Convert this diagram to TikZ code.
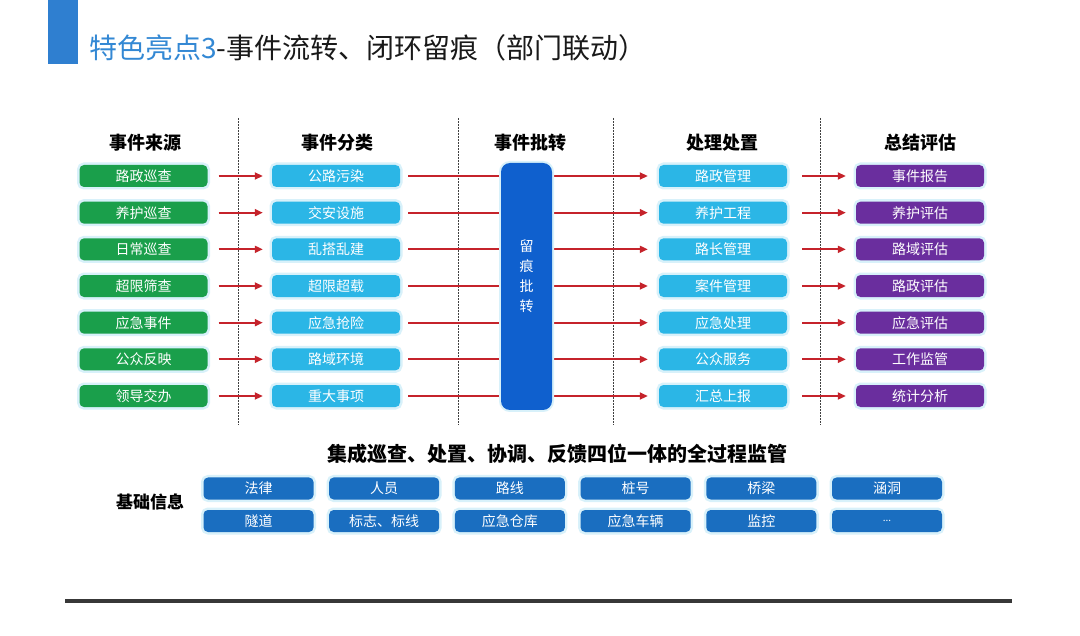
\documentclass[tikz,border=0pt]{standalone}
\usepackage{fontspec}
\setmainfont{Noto Sans CJK SC}
\usetikzlibrary{arrows.meta}
\definecolor{titleblue}{HTML}{3388D4}
\definecolor{barblue}{HTML}{2F7FD0}
\definecolor{srcgreen}{HTML}{1A9F4B}
\definecolor{lightblue}{HTML}{2BB6E6}
\definecolor{darkblue}{HTML}{0F60CE}
\definecolor{purp}{HTML}{6A2E9E}
\definecolor{midblue}{HTML}{1A6EC0}
\definecolor{arrred}{HTML}{C5232B}
\definecolor{glow}{HTML}{D8F1FA}
\tikzset{
  box/.style={rounded corners=4.5pt, minimum width=128pt, minimum height=22pt, inner sep=0pt,
    text=white, font=\fontsize{14}{16}\selectfont,
    preaction={draw=glow, line width=5pt}},
  greenbox/.style={box, fill=srcgreen},
  lbbox/.style={box, fill=lightblue},
  purpbox/.style={box, fill=purp},
  infobox/.style={box, fill=midblue, minimum width=110pt},
  header/.style={font=\bfseries\fontsize{18}{20}\selectfont, text=black},
  flow/.style={draw=arrred, line width=1.8pt, -{Triangle[length=8pt,width=7pt]}},
  divider/.style={draw=black!75, line width=0.8pt, dash pattern=on 2pt off 1pt},
}
\begin{document}
\begin{tikzpicture}[x=1pt,y=-1pt]
\useasboundingbox[fill=white] (0,0) rectangle (1080,636);
% title
\fill[barblue] (48,0) rectangle (78,64);
\node[anchor=west, inner sep=0pt, font=\fontsize{28}{30}\selectfont] (title) at (89,48)
  {\textcolor{titleblue}{特色亮点3}\textcolor{black!90}{-事件流转、闭环留痕（部门联动）}};
% headers
\node[header] (h1) at (145,143) {事件来源};
\node[header] (h2) at (337,143) {事件分类};
\node[header] (h3) at (530,143) {事件批转};
\node[header] (h4) at (722,143) {处理处置};
\node[header] (h5) at (920,143) {总结评估};
% dividers
\draw[divider] (238,118) -- (238,425);
\draw[divider] (458,118) -- (458,425);
\draw[divider] (613,118) -- (613,425);
\draw[divider] (820,118) -- (820,425);
% rows
\foreach \a/\b/\c/\d [count=\i] in {路政巡查/公路污染/路政管理/事件报告,
  养护巡查/交安设施/养护工程/养护评估,
  日常巡查/乱搭乱建/路长管理/路域评估,
  超限筛查/超限超载/案件管理/路政评估,
  应急事件/应急抢险/应急处理/应急评估,
  公众反映/路域环境/公众服务/工作监管,
  领导交办/重大事项/汇总上报/统计分析}{
  \pgfmathsetmacro{\yy}{176+(\i-1)*36.67}
  \node[greenbox] (g\i) at (143.5,\yy) {\a};
  \node[lbbox] (c\i) at (336,\yy) {\b};
  \node[lbbox] (p\i) at (723,\yy) {\c};
  \node[purpbox] (e\i) at (920,\yy) {\d};
  \draw[flow, shorten <=11pt, shorten >=9pt] (g\i.east) -- (c\i.west);
  \draw[flow, shorten <=8pt, shorten >=11pt] (c\i.east) -- (p\i.west);
  \draw[flow, shorten <=15pt, shorten >=10pt] (p\i.east) -- (e\i.west);
}
% central box
\node[rounded corners=9pt, fill=darkblue, minimum width=51pt, minimum height=247pt, inner sep=0pt,
  preaction={draw=glow, line width=4pt}] (mid) at (526.5,286.5) {};
\node[text=white, font=\fontsize{14}{20}\selectfont, align=center] (midtxt) at ([yshift=10pt]mid.center) {留\\痕\\批\\转};
% bottom
\node[font=\bfseries\fontsize{20}{22}\selectfont] (sum) at (557,454) {集成巡查、处置、协调、反馈四位一体的全过程监管};
\node[font=\bfseries\fontsize{17}{20}\selectfont] (base) at (150,502) {基础信息};
\node[infobox] (ia1) at (258.5,488.5) {法律};
\node[infobox] (ia2) at (384.2,488.5) {人员};
\node[infobox] (ia3) at (509.9,488.5) {路线};
\node[infobox] (ia4) at (635.6,488.5) {桩号};
\node[infobox] (ia5) at (761.3,488.5) {桥梁};
\node[infobox] (ia6) at (887.0,488.5) {涵洞};
\node[infobox] (ib1) at (258.5,521) {隧道};
\node[infobox] (ib2) at (384.2,521) {标志、标线};
\node[infobox] (ib3) at (509.9,521) {应急仓库};
\node[infobox] (ib4) at (635.6,521) {应急车辆};
\node[infobox] (ib5) at (761.3,521) {监控};
\node[infobox, font=\fontsize{10}{12}\selectfont] (ib6) at (887.0,521) {...};
\draw[line width=4pt, draw=black!78] (65,601) -- (1012,601);
\end{tikzpicture}
\end{document}
